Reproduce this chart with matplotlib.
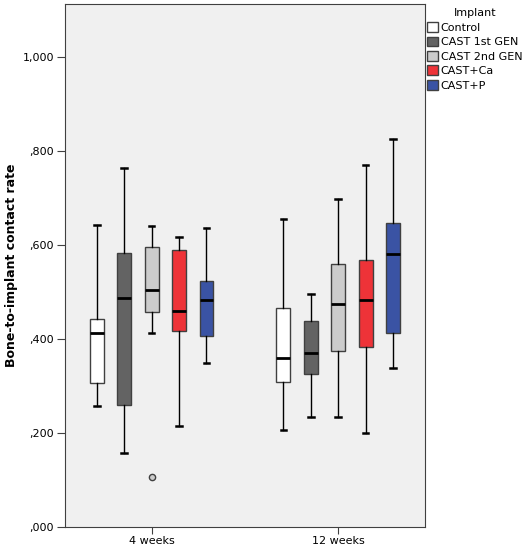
import matplotlib
matplotlib.use("Agg")
import matplotlib.pyplot as plt
from matplotlib.patches import Patch

# ── data ───────────────────────────────────────────────────────────────────────
weeks   = ["4 weeks", "12 weeks"]
groups  = ["Control", "CAST 1st GEN", "CAST 2nd GEN", "CAST+Ca", "CAST+P"]
colors  = ["#ffffff", "#636363", "#cccccc", "#ee3338", "#3a53a4"]

# per group: [4 weeks, 12 weeks]
whislo  = [[0.258, 0.206], [0.157, 0.234], [0.413, 0.235], [0.216, 0.201], [0.350, 0.339]]
q1      = [[0.306, 0.310], [0.261, 0.326], [0.457, 0.375], [0.417, 0.384], [0.407, 0.414]]
med     = [[0.413, 0.360], [0.487, 0.371], [0.505, 0.474], [0.461, 0.483], [0.483, 0.581]]
q3      = [[0.442, 0.467], [0.584, 0.439], [0.596, 0.560], [0.590, 0.569], [0.523, 0.647]]
whishi  = [[0.642, 0.656], [0.764, 0.497], [0.640, 0.698], [0.617, 0.771], [0.637, 0.825]]
fliers  = [[[], []], [[], []], [[0.108], []], [[], []], [[], []]]

yticks  = [0.0, 0.2, 0.4, 0.6, 0.8, 1.0]
ylabels = [",000", ",200", ",400", ",600", ",800", "1,000"]

# ── plot ───────────────────────────────────────────────────────────────────────
fig = plt.figure(figsize=(5.29, 5.5), dpi=100)
ax = fig.add_axes([64.5/529, 1 - 527.3/550, 360.5/529, 523.3/550])
ax.set_facecolor("#f0f0f0")

step  = 0.147
width = 0.075
for g in range(len(groups)):
    for w in range(len(weeks)):
        st = [dict(whislo=whislo[g][w], q1=q1[g][w], med=med[g][w],
                   q3=q3[g][w], whishi=whishi[g][w], fliers=fliers[g][w])]
        pos = w + (g - 2) * step
        ax.bxp(st, positions=[pos], widths=width, patch_artist=True,
               showfliers=True, manage_ticks=False,
               boxprops=dict(facecolor=colors[g], edgecolor="#404040", lw=1.0),
               medianprops=dict(color="black", lw=2.0),
               whiskerprops=dict(color="black", lw=1.0),
               capprops=dict(color="black", lw=1.8),
               capwidths=0.03,
               flierprops=dict(marker="o", markersize=4.5, markerfacecolor="#cccccc",
                               markeredgecolor="#404040", markeredgewidth=1.0))

ax.set_xlim(-0.467, 1.465)
ax.set_ylim(0, 1.113)
ax.set_xticks([0, 1])
ax.set_xticklabels(weeks, fontsize=8)
ax.set_yticks(yticks)
ax.set_yticklabels(ylabels, fontsize=8)
ax.tick_params(axis="y", length=6, pad=1.5, color="#404040")
ax.tick_params(axis="x", length=5, pad=1.0, color="#404040")
for sp in ax.spines.values():
    sp.set_color("#404040")
ax.set_ylabel("Bone-to-implant contact rate", fontsize=9, fontweight="bold")
ax.yaxis.set_label_coords(-46/360.5, 0.5)

handles = [Patch(facecolor=c, edgecolor="#404040", lw=1.0) for c in colors]
leg = fig.legend(handles, groups, title="Implant", loc="upper left",
                 bbox_to_anchor=(423/529, 1 - 4/550), frameon=False,
                 fontsize=8, title_fontsize=8, handlelength=0.95, handleheight=1.0,
                 handletextpad=0.25, labelspacing=0.33, borderaxespad=0.2,
                 borderpad=0.2)

fig.savefig("out.png", dpi=100)
